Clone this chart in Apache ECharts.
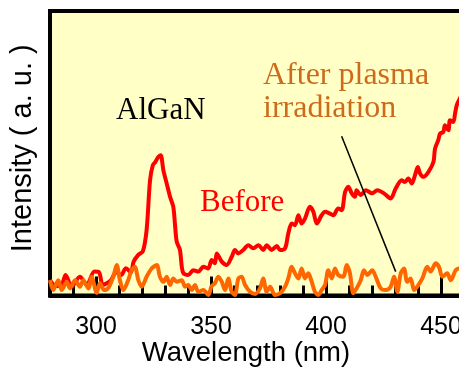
<!DOCTYPE html>
<html>
<head>
<meta charset="utf-8">
<script src="https://cdn.jsdelivr.net/npm/echarts@6/dist/echarts.min.js"></script>
<style>
    html, body { margin: 0; padding: 0; background: #fff; }
    #pl-spectrum { width: 459px; height: 367px; }
</style>
</head>
<body>
<div id="pl-spectrum"></div>
<script>
// spectrum before plasma (nm, a.u.)
const beforeWavelength = [280.0, 282.6, 285.2, 286.8, 289.4, 293.0, 296.0, 299.3, 301.3, 303.0, 306.5, 308.7, 310.9, 313.0, 315.2, 316.3, 318.3, 320.4, 322.0, 323.5, 324.7, 325.7, 327.0, 328.1, 329.3, 330.7, 332.2, 333.6, 334.3, 335.1, 336.5, 337.3, 338.0, 340.1, 342.3, 344.5, 346.7, 348.8, 350.3, 351.7, 352.5, 354.7, 356.8, 359.0, 360.4, 361.9, 364.0, 366.2, 368.4, 370.6, 372.7, 374.2, 376.4, 378.6, 380.0, 382.2, 383.6, 385.1, 386.5, 388.0, 389.4, 390.9, 393.0, 394.5, 396.0, 398.1, 399.6, 401.7, 403.2, 405.3, 406.8, 408.3, 409.7, 411.2, 412.6, 413.3, 415.1, 417.3, 420.1, 422.3, 425.2, 428.1, 430.3, 432.9, 434.3, 435.8, 437.3, 438.7, 439.9, 440.9, 442.3, 444.5, 446.7, 447.4, 448.8, 449.6, 451.0, 451.7, 453.2, 453.9, 455.3, 456.1, 456.8, 457.8, 459.0];
const beforeIntensity = [5.4, 3.3, 4.0, 7.2, 3.1, 6.6, 3.7, 8.4, 8.2, 3.7, 5.4, 8.2, 7.2, 9.6, 8.2, 11.8, 14.2, 15.6, 23.0, 40.5, 45.8, 46.8, 48.6, 49.3, 44.0, 39.5, 34.7, 31.2, 25.4, 18.9, 16.0, 10.1, 7.8, 7.2, 8.9, 8.4, 10.1, 9.5, 12.5, 11.3, 14.8, 11.9, 10.7, 13.6, 16.0, 14.8, 16.0, 17.7, 16.6, 17.7, 16.0, 17.7, 16.0, 17.4, 16.0, 16.6, 21.8, 25.3, 24.7, 28.2, 25.3, 27.1, 31.2, 29.4, 25.3, 28.2, 29.4, 28.8, 28.2, 30.6, 30.0, 36.4, 38.2, 35.9, 34.7, 37.0, 35.3, 37.0, 35.9, 37.0, 35.9, 34.1, 37.6, 40.5, 39.9, 41.1, 39.4, 42.3, 45.2, 42.9, 41.7, 43.4, 46.9, 51.6, 54.6, 56.9, 57.5, 59.8, 58.1, 61.6, 61.0, 63.9, 66.8, 68.6, 70.5];

// spectrum after plasma irradiation
const afterWavelength = [280.0, 281.4, 283.6, 285.1, 287.3, 288.7, 290.9, 293.0, 294.5, 296.7, 298.1, 300.3, 301.7, 303.5, 305.3, 307.5, 309.0, 310.4, 311.9, 314.0, 315.5, 316.9, 318.4, 319.9, 322.0, 324.2, 326.4, 327.8, 329.3, 330.7, 332.2, 333.6, 335.1, 337.3, 338.7, 340.1, 341.6, 343.0, 344.5, 346.7, 348.8, 350.3, 351.7, 353.2, 354.7, 356.1, 357.5, 359.0, 360.4, 361.9, 363.3, 364.8, 367.0, 369.1, 371.3, 372.7, 374.2, 375.7, 377.8, 380.0, 382.2, 383.6, 385.1, 386.5, 388.0, 389.4, 390.9, 392.3, 393.8, 395.2, 396.7, 398.1, 399.6, 401.0, 402.5, 403.9, 405.3, 407.5, 409.0, 410.4, 411.9, 413.3, 415.1, 416.5, 418.0, 420.1, 421.6, 423.8, 426.0, 428.1, 429.6, 431.0, 432.5, 433.9, 435.3, 436.8, 438.3, 439.7, 441.9, 444.0, 445.5, 447.7, 449.1, 450.6, 452.7, 454.2, 456.4, 457.8, 459.0];
const afterIntensity = [5.4, 1.9, 5.4, 1.9, 4.8, 2.5, 5.4, 3.1, 5.4, 2.5, 6.6, 0.9, 4.3, 1.9, 2.6, 6.6, 10.7, 5.4, 1.9, 5.4, 8.9, 10.1, 5.4, 3.1, 6.6, 9.5, 10.7, 6.6, 4.8, 6.6, 3.7, 6.0, 4.8, 5.4, 3.1, 3.7, 1.9, 3.7, 1.3, 1.9, 0.2, 3.3, 4.3, 6.6, 4.8, 1.9, 6.0, 1.3, 0.2, 6.0, 6.6, 3.7, 1.3, 0.5, 2.5, 6.0, 1.3, 3.1, 0.2, 0.8, 3.1, 6.0, 10.1, 7.8, 6.0, 9.5, 6.0, 7.8, 4.8, 1.3, 0.2, 1.9, 3.7, 8.9, 6.0, 9.5, 7.2, 6.6, 10.7, 7.8, 0.8, 2.5, 5.4, 8.9, 7.2, 8.9, 6.6, 2.5, 1.9, 3.1, 6.6, 1.3, 7.8, 9.5, 4.8, 6.0, 1.9, 3.1, 6.0, 10.1, 8.4, 11.3, 10.1, 6.6, 7.8, 5.4, 8.9, 9.5, 9.0];

// axis ticks
const tickLabels = [300, 350, 400, 450];
const minorTicks = [280, 290, 300, 310, 320, 330, 340, 350, 360, 370, 380, 390, 400, 410, 420, 430, 440, 450, 460];

// pointer from the "After plasma" label down to the curve
const pointerFrom = [406.8, 56.0];
const pointerTo = [430.3, 8.4];

function zip(xs, ys) {
    return xs.map(function (x, i) { return [x, ys[i]]; });
}

var chart = echarts.init(document.getElementById('pl-spectrum'));
const option = {
    backgroundColor: '#ffffff',
    animation: false,
    grid: {
        show: true,
        left: 50,
        top: 11,
        right: -5,
        bottom: 71.5,
        outerBoundsMode: 'none',
        backgroundColor: '#ffffc6',
        borderColor: '#000',
        borderWidth: 4
    },
    xAxis: [
        {
            type: 'value',
            min: 280,
            max: 460,
            name: 'Wavelength (nm)',
            nameLocation: 'middle',
            nameGap: 44,
            nameMoveOverlap: false,
            nameTextStyle: {
                fontFamily: 'Liberation Sans',
                fontSize: 27.5,
                color: '#000',
                padding: [0, 22, 0, 0]
            },
            splitLine: { show: false },
            axisLine: { lineStyle: { color: '#000', width: 4 } },
            axisTick: {
                inside: true,
                length: 19,
                customValues: tickLabels,
                lineStyle: { color: '#000', width: 3 }
            },
            axisLabel: {
                customValues: tickLabels,
                margin: 19,
                fontFamily: 'Liberation Sans',
                fontSize: 25,
                color: '#000'
            }
        },
        {
            // short ticks every 10 nm
            type: 'value',
            min: 280,
            max: 460,
            position: 'bottom',
            splitLine: { show: false },
            axisLine: { show: false },
            axisTick: {
                inside: true,
                length: 10,
                customValues: minorTicks,
                lineStyle: { color: '#000', width: 3 }
            },
            axisLabel: { show: false }
        }
    ],
    yAxis: {
        type: 'value',
        min: 0,
        max: 100,
        name: 'Intensity ( a. u. )',
        nameLocation: 'middle',
        nameGap: 13,
        nameMoveOverlap: false,
        nameTextStyle: {
            fontFamily: 'Liberation Sans',
            fontSize: 29,
            color: '#000',
            padding: [0, 0, 0, 10]
        },
        splitLine: { show: false },
        axisLine: { show: true, lineStyle: { color: '#000', width: 4 } },
        axisTick: { show: false },
        axisLabel: { show: false }
    },
    series: [
        {
            name: 'Before',
            type: 'line',
            data: zip(beforeWavelength, beforeIntensity),
            showSymbol: false,
            smooth: 0.3,
            lineStyle: { color: '#ff0000', width: 4 }
        },
        {
            name: 'After plasma irradiation',
            type: 'line',
            data: zip(afterWavelength, afterIntensity),
            showSymbol: false,
            smooth: 0.3,
            lineStyle: { color: '#ff6600', width: 4 },
            markLine: {
                silent: true,
                symbol: 'none',
                label: { show: false },
                lineStyle: { color: '#000', width: 1.5, type: 'solid' },
                data: [[{ coord: pointerFrom }, { coord: pointerTo }]]
            }
        }
    ],
    graphic: [
        {
            type: 'text', left: 116, top: 95,
            style: { text: 'AlGaN', fill: '#000', font: '31px "Liberation Serif"' }
        },
        {
            type: 'text', left: 200, top: 187,
            style: { text: 'Before', fill: '#ff0000', font: '31px "Liberation Serif"' }
        },
        {
            type: 'text', left: 263, top: 60,
            style: { text: 'After plasma', fill: '#cd6a1c', font: '32px "Liberation Serif"' }
        },
        {
            type: 'text', left: 263, top: 93,
            style: { text: 'irradiation', fill: '#cd6a1c', font: '32px "Liberation Serif"' }
        }
    ]
};
chart.setOption(option);
window.addEventListener('resize', function () {
    chart.resize();
});
</script>
</body>
</html>
